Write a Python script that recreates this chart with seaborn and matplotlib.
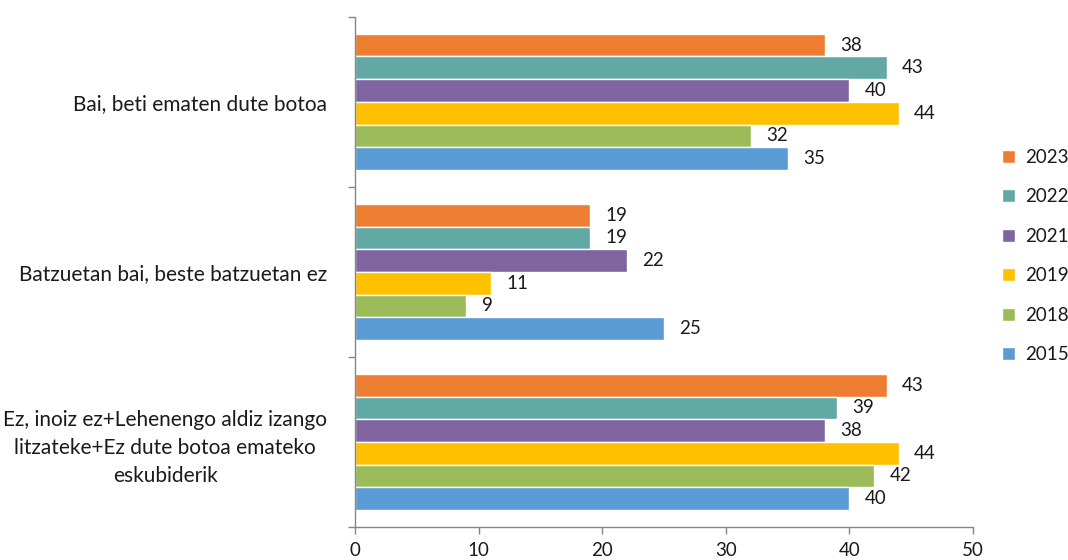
import matplotlib
matplotlib.use("Agg")
import matplotlib.pyplot as plt
import seaborn as sns
import pandas as pd

categories = [
    "Bai, beti ematen dute botoa",
    "Batzuetan bai, beste batzuetan ez",
    "Ez, inoiz ez+Lehenengo aldiz izango\nlitzateke+Ez dute botoa emateko\neskubiderik",
]
years = ["2023", "2022", "2021", "2019", "2018", "2015"]
v2023 = [38, 19, 43]
v2022 = [43, 19, 39]
v2021 = [40, 22, 38]
v2019 = [44, 11, 44]
v2018 = [32, 9, 42]
v2015 = [35, 25, 40]
colors = ["#ED7D31", "#62A8A5", "#8064A0", "#FFC000", "#9BBB59", "#5B9BD5"]
xticks = [0, 10, 20, 30, 40, 50]

series = dict(zip(years, [v2023, v2022, v2021, v2019, v2018, v2015]))
rows = []
for y in years:
    for c, v in zip(categories, series[y]):
        rows.append({"cat": c, "year": y, "val": v})
df = pd.DataFrame(rows)

sns.set_style("white")
plt.rcParams["font.family"] = ["Lato", "DejaVu Sans"]
txt = "#1a1a1a"

fig = plt.figure(figsize=(10.68, 5.6), dpi=100)
ax = fig.add_axes([0.3324, 0.059, 0.5787, 0.911])
sns.barplot(data=df, y="cat", x="val", hue="year", hue_order=years,
            order=categories, palette=colors, orient="h", width=0.8,
            saturation=1, errorbar=None, ax=ax, legend=True)

for cont in ax.containers:
    ax.bar_label(cont, padding=11, fontsize=13.5, color=txt)

ax.set_xlim(0, 50)
ax.set_xticks(xticks)
ax.set_ylim(2.5, -0.5)
ax.set_xlabel("")
ax.set_ylabel("")

ax.set_yticks([-0.5, 0.5, 1.5, 2.5])
ax.set_yticklabels([])
ax.tick_params(axis="y", which="major", length=5, color="#868686", width=1, direction="out", left=True)
ax.set_yticks([0, 1, 2], minor=True)
ax.set_yticklabels(categories, minor=True, fontsize=15, color=txt,
                   multialignment="center", linespacing=1.5)
ax.tick_params(axis="y", which="minor", length=0, pad=20)
ax.tick_params(axis="x", length=5, color="#868686", width=1, direction="out", bottom=True,
               labelsize=13.5, labelcolor=txt, pad=6)

for s in ["top", "right"]:
    ax.spines[s].set_visible(False)
for s in ["left", "bottom"]:
    ax.spines[s].set_color("#868686")
    ax.spines[s].set_linewidth(1)

h, l = ax.get_legend_handles_labels()
ax.legend(h, l, loc="center left", bbox_to_anchor=(1.02, 0.531), frameon=False,
          fontsize=13.5, handlelength=0.7, handleheight=0.7, handletextpad=0.5,
          labelspacing=1.2, labelcolor=txt)

fig.savefig("out.png", dpi=100)
